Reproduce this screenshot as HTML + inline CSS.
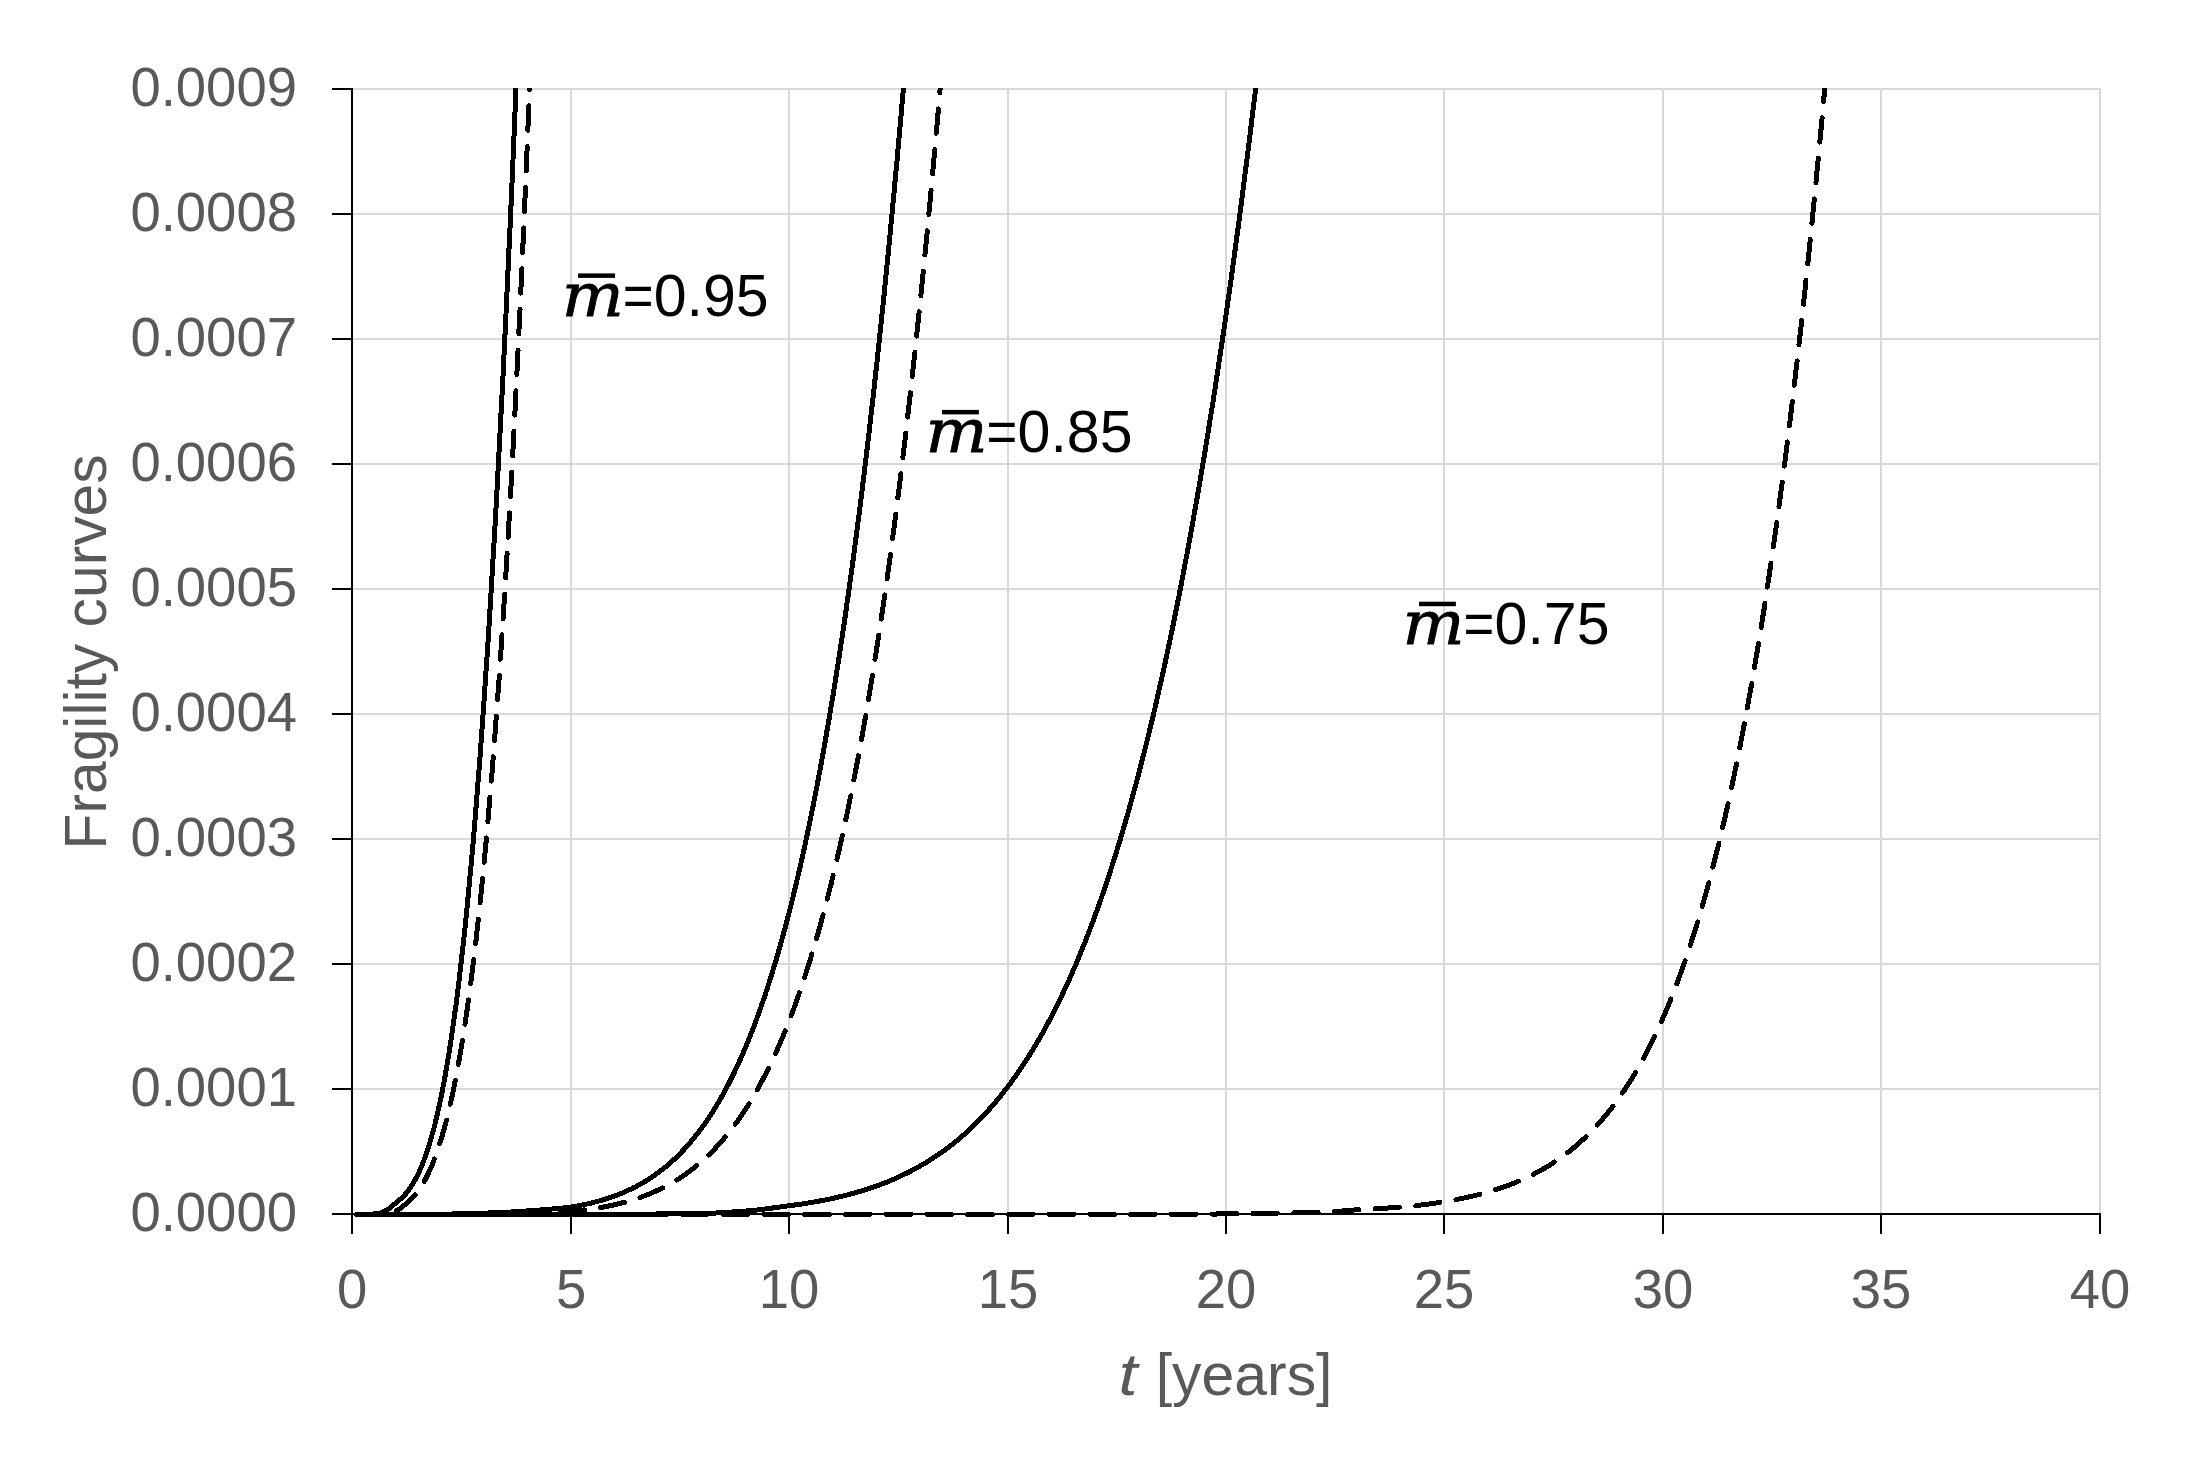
<!DOCTYPE html>
<html lang="en"><head><meta charset="utf-8"><title>Fragility curves</title>
<style>html,body{margin:0;padding:0;background:#fff}svg{display:block}</style>
</head><body>
<svg width="2200" height="1462" viewBox="0 0 2200 1462">
<rect width="2200" height="1462" fill="#fff"/>
<g stroke="#d9d9d9" stroke-width="2" fill="none">
<line x1="352" y1="89" x2="2101" y2="89"/>
<line x1="352" y1="214" x2="2101" y2="214"/>
<line x1="352" y1="339" x2="2101" y2="339"/>
<line x1="352" y1="464" x2="2101" y2="464"/>
<line x1="352" y1="589" x2="2101" y2="589"/>
<line x1="352" y1="714" x2="2101" y2="714"/>
<line x1="352" y1="839" x2="2101" y2="839"/>
<line x1="352" y1="964" x2="2101" y2="964"/>
<line x1="352" y1="1089" x2="2101" y2="1089"/>
<line x1="571" y1="88" x2="571" y2="1214"/>
<line x1="789" y1="88" x2="789" y2="1214"/>
<line x1="1008" y1="88" x2="1008" y2="1214"/>
<line x1="1226" y1="88" x2="1226" y2="1214"/>
<line x1="1444" y1="88" x2="1444" y2="1214"/>
<line x1="1663" y1="88" x2="1663" y2="1214"/>
<line x1="1881" y1="88" x2="1881" y2="1214"/>
<line x1="2100" y1="88" x2="2100" y2="1214"/>
</g>
<g stroke="#000" stroke-width="2" fill="none">
<line x1="352" y1="88" x2="352" y2="1234"/>
<line x1="332" y1="1214" x2="2101" y2="1214"/>
<line x1="332" y1="89" x2="352" y2="89"/>
<line x1="332" y1="214" x2="352" y2="214"/>
<line x1="332" y1="339" x2="352" y2="339"/>
<line x1="332" y1="464" x2="352" y2="464"/>
<line x1="332" y1="589" x2="352" y2="589"/>
<line x1="332" y1="714" x2="352" y2="714"/>
<line x1="332" y1="839" x2="352" y2="839"/>
<line x1="332" y1="964" x2="352" y2="964"/>
<line x1="332" y1="1089" x2="352" y2="1089"/>
<line x1="571" y1="1214" x2="571" y2="1234"/>
<line x1="789" y1="1214" x2="789" y2="1234"/>
<line x1="1008" y1="1214" x2="1008" y2="1234"/>
<line x1="1226" y1="1214" x2="1226" y2="1234"/>
<line x1="1444" y1="1214" x2="1444" y2="1234"/>
<line x1="1663" y1="1214" x2="1663" y2="1234"/>
<line x1="1881" y1="1214" x2="1881" y2="1234"/>
<line x1="2100" y1="1214" x2="2100" y2="1234"/>
</g>
<clipPath id="plot"><rect x="340" y="88" width="1780" height="1140"/></clipPath>
<g clip-path="url(#plot)" stroke="#000" stroke-width="5" fill="none" stroke-linecap="round" stroke-linejoin="round" shape-rendering="crispEdges">
<path d="M356.5 1214.3L360.5 1214.3L364.5 1214.3L368.5 1214.2L372.5 1214.1L376.5 1213.7L380.5 1213.0L384.5 1211.3L388.5 1209.1L392.5 1205.8L396.5 1202.3L397.5 1201.5L397.8 1201.3L398.1 1201.0L398.4 1200.8L398.7 1200.6L399.0 1200.3L399.3 1200.1L399.6 1199.8L399.9 1199.6L400.2 1199.3L400.5 1199.0L400.8 1198.8L401.1 1198.5L401.5 1198.2L401.8 1197.9L402.1 1197.6L402.4 1197.3L402.7 1197.0L403.0 1196.7L403.3 1196.4L403.6 1196.1L403.9 1195.8L404.2 1195.5L404.5 1195.1L404.8 1194.8L405.1 1194.4L405.4 1194.1L405.7 1193.8L406.0 1193.4L406.3 1193.0L406.6 1192.7L406.9 1192.3L407.2 1191.9L407.5 1191.5L407.8 1191.1L408.1 1190.7L408.4 1190.3L408.7 1189.9L409.0 1189.5L409.4 1189.1L409.7 1188.7L410.0 1188.2L410.3 1187.8L410.6 1187.3L410.9 1186.9L411.2 1186.4L411.5 1186.0L411.8 1185.5L412.1 1185.0L412.4 1184.5L412.7 1184.0L413.0 1183.5L413.3 1183.0L413.6 1182.5L413.9 1182.0L414.2 1181.5L414.5 1180.9L414.8 1180.4L415.1 1179.8L415.4 1179.3L415.7 1178.7L416.0 1178.1L416.3 1177.5L416.6 1177.0L417.0 1176.4L417.3 1175.8L417.6 1175.1L417.9 1174.5L418.2 1173.9L418.5 1173.2L418.8 1172.6L419.1 1171.9L419.4 1171.3L419.7 1170.6L420.0 1169.9L420.3 1169.2L420.6 1168.5L420.9 1167.8L421.2 1167.1L421.5 1166.4L421.8 1165.7L422.1 1164.9L422.4 1164.2L422.7 1163.4L423.0 1162.6L423.3 1161.9L423.6 1161.1L423.9 1160.3L424.2 1159.5L424.6 1158.6L424.9 1157.8L425.2 1157.0L425.5 1156.1L425.8 1155.3L426.1 1154.4L426.4 1153.5L426.7 1152.6L427.0 1151.7L427.3 1150.8L427.6 1149.9L427.9 1148.9L428.2 1148.0L428.5 1147.0L428.8 1146.1L429.1 1145.1L429.4 1144.1L429.7 1143.1L430.0 1142.1L430.3 1141.1L430.6 1140.1L430.9 1139.0L431.2 1137.9L431.5 1136.9L431.8 1135.8L432.1 1134.7L432.5 1133.6L432.8 1132.5L433.1 1131.4L433.4 1130.2L433.7 1129.1L434.0 1127.9L434.3 1126.7L434.6 1125.5L434.9 1124.3L435.2 1123.1L435.5 1121.9L435.8 1120.6L436.1 1119.4L436.4 1118.1L436.7 1116.8L437.0 1115.5L437.3 1114.2L437.6 1112.9L437.9 1111.6L438.2 1110.2L438.5 1108.9L438.8 1107.5L439.1 1106.1L439.4 1104.7L439.7 1103.3L440.1 1101.8L440.4 1100.4L440.7 1098.9L441.0 1097.5L441.3 1096.0L441.6 1094.5L441.9 1092.9L442.2 1091.4L442.5 1089.9L442.8 1088.3L443.1 1086.7L443.4 1085.1L443.7 1083.5L444.0 1081.9L444.3 1080.3L444.6 1078.6L444.9 1076.9L445.2 1075.2L445.5 1073.5L445.8 1071.8L446.1 1070.1L446.4 1068.3L446.7 1066.6L447.0 1064.8L447.3 1063.0L447.6 1061.2L448.0 1059.3L448.3 1057.5L448.6 1055.6L448.9 1053.7L449.2 1051.8L449.5 1049.9L449.8 1048.0L450.1 1046.0L450.4 1044.1L450.7 1042.1L451.0 1040.1L451.3 1038.1L451.6 1036.0L451.9 1034.0L452.2 1031.9L452.5 1029.8L452.8 1027.7L453.1 1025.6L453.4 1023.4L453.7 1021.3L454.0 1019.1L454.3 1016.9L454.6 1014.7L454.9 1012.5L455.2 1010.2L455.6 1007.9L455.9 1005.6L456.2 1003.3L456.5 1001.0L456.8 998.6L457.1 996.3L457.4 993.9L457.7 991.5L458.0 989.1L458.3 986.6L458.6 984.2L458.9 981.7L459.2 979.2L459.5 976.7L459.8 974.1L460.1 971.5L460.4 969.0L460.7 966.4L461.0 963.7L461.3 961.1L461.6 958.4L461.9 955.7L462.2 953.0L462.5 950.3L462.8 947.6L463.1 944.8L463.5 942.0L463.8 939.2L464.1 936.4L464.4 933.5L464.7 930.7L465.0 927.8L465.3 924.9L465.6 921.9L465.9 919.0L466.2 916.0L466.5 913.0L466.8 910.0L467.1 906.9L467.4 903.9L467.7 900.8L468.0 897.7L468.3 894.5L468.6 891.4L468.9 888.2L469.2 885.0L469.5 881.8L469.8 878.5L470.1 875.3L470.4 872.0L470.7 868.7L471.1 865.4L471.4 862.0L471.7 858.6L472.0 855.2L472.3 851.8L472.6 848.3L472.9 844.9L473.2 841.4L473.5 837.9L473.8 834.3L474.1 830.8L474.4 827.2L474.7 823.6L475.0 819.9L475.3 816.3L475.6 812.6L475.9 808.9L476.2 805.1L476.5 801.4L476.8 797.6L477.1 793.8L477.4 790.0L477.7 786.1L478.0 782.2L478.3 778.3L478.7 774.4L479.0 770.5L479.3 766.5L479.6 762.5L479.9 758.5L480.2 754.4L480.5 750.4L480.8 746.3L481.1 742.1L481.4 738.0L481.7 733.8L482.0 729.6L482.3 725.4L482.6 721.1L482.9 716.9L483.2 712.6L483.5 708.2L483.8 703.9L484.1 699.5L484.4 695.1L484.7 690.7L485.0 686.2L485.3 681.7L485.6 677.2L485.9 672.7L486.2 668.1L486.6 663.6L486.9 658.9L487.2 654.3L487.5 649.7L487.8 645.0L488.1 640.2L488.4 635.5L488.7 630.7L489.0 625.9L489.3 621.1L489.6 616.3L489.9 611.4L490.2 606.5L490.5 601.6L490.8 596.6L491.1 591.6L491.4 586.6L491.7 581.6L492.0 576.5L492.3 571.4L492.6 566.3L492.9 561.2L493.2 556.0L493.5 550.8L493.8 545.6L494.2 540.3L494.5 535.1L494.8 529.8L495.1 524.4L495.4 519.1L495.7 513.7L496.0 508.2L496.3 502.8L496.6 497.3L496.9 491.8L497.2 486.3L497.5 480.7L497.8 475.2L498.1 469.6L498.4 463.9L498.7 458.3L499.0 452.6L499.3 446.8L499.6 441.1L499.9 435.3L500.2 429.5L500.5 423.7L500.8 417.8L501.1 411.9L501.4 406.0L501.7 400.0L502.1 394.1L502.4 388.1L502.7 382.0L503.0 376.0L503.3 369.9L503.6 363.8L503.9 357.6L504.2 351.5L504.5 345.2L504.8 339.0L505.1 332.8L505.4 326.5L505.7 320.2L506.0 313.8L506.3 307.4L506.6 301.0L506.9 294.6L507.2 288.1L507.5 281.7L507.8 275.1L508.1 268.6L508.4 262.0L508.7 255.4L509.0 248.8L509.3 242.1L509.7 235.4L510.0 228.7L510.3 222.0L510.6 215.2L510.9 208.4L511.2 201.5L511.5 194.7L511.8 187.8L512.1 180.9L512.4 173.9L512.7 166.9L513.0 159.9L513.3 152.9L513.6 145.8L513.9 138.7L514.2 131.6L514.5 124.5L514.8 117.3L515.1 110.1L515.4 102.8L515.7 95.6L516.0 88.3L516.2 84.0"/>
<path d="M356.5 1214.3L360.5 1214.3L364.5 1214.3L368.5 1214.3L372.5 1214.3L376.5 1214.3L380.5 1214.3L384.5 1214.3L388.5 1214.3L392.5 1214.3L396.5 1214.3L400.5 1214.2L404.5 1214.2L408.5 1214.2L412.5 1214.2L416.5 1214.2L420.5 1214.2L424.5 1214.2L428.5 1214.1L432.5 1214.1L436.5 1214.1L440.5 1214.1L444.5 1214.1L448.5 1214.0L452.5 1214.0L456.5 1213.9L460.5 1213.8L464.5 1213.7L468.5 1213.6L472.5 1213.5L476.5 1213.4L480.5 1213.3L484.5 1213.2L488.5 1213.0L492.5 1212.9L496.5 1212.8L500.5 1212.6L504.5 1212.4L508.5 1212.2L512.5 1211.9L516.5 1211.7L520.5 1211.4L524.5 1211.1L528.5 1210.8L532.5 1210.6L536.5 1210.3L540.5 1210.0L544.5 1209.7L548.5 1209.3L552.5 1209.0L556.5 1208.7L560.5 1208.3L564.5 1207.8L568.5 1207.4L571.5 1207.0L572.4 1206.8L573.2 1206.7L574.1 1206.5L574.9 1206.4L575.8 1206.2L576.7 1206.1L577.5 1205.9L578.4 1205.8L579.2 1205.6L580.1 1205.4L581.0 1205.3L581.8 1205.1L582.7 1204.9L583.6 1204.7L584.4 1204.6L585.3 1204.4L586.1 1204.2L587.0 1204.0L587.9 1203.8L588.7 1203.6L589.6 1203.4L590.4 1203.2L591.3 1203.0L592.2 1202.8L593.0 1202.6L593.9 1202.3L594.7 1202.1L595.6 1201.9L596.5 1201.7L597.3 1201.4L598.2 1201.2L599.0 1201.0L599.9 1200.7L600.8 1200.5L601.6 1200.2L602.5 1200.0L603.3 1199.7L604.2 1199.5L605.1 1199.2L605.9 1198.9L606.8 1198.7L607.7 1198.4L608.5 1198.1L609.4 1197.8L610.2 1197.5L611.1 1197.2L612.0 1196.9L612.8 1196.6L613.7 1196.3L614.5 1196.0L615.4 1195.7L616.3 1195.4L617.1 1195.0L618.0 1194.7L618.8 1194.4L619.7 1194.0L620.6 1193.7L621.4 1193.3L622.3 1193.0L623.1 1192.6L624.0 1192.2L624.9 1191.9L625.7 1191.5L626.6 1191.1L627.4 1190.7L628.3 1190.3L629.2 1189.9L630.0 1189.5L630.9 1189.1L631.8 1188.7L632.6 1188.3L633.5 1187.8L634.3 1187.4L635.2 1187.0L636.1 1186.5L636.9 1186.1L637.8 1185.6L638.6 1185.1L639.5 1184.7L640.4 1184.2L641.2 1183.7L642.1 1183.2L642.9 1182.7L643.8 1182.2L644.7 1181.7L645.5 1181.2L646.4 1180.6L647.2 1180.1L648.1 1179.6L649.0 1179.0L649.8 1178.5L650.7 1177.9L651.5 1177.3L652.4 1176.8L653.3 1176.2L654.1 1175.6L655.0 1175.0L655.9 1174.4L656.7 1173.7L657.6 1173.1L658.4 1172.5L659.3 1171.8L660.2 1171.2L661.0 1170.5L661.9 1169.9L662.7 1169.2L663.6 1168.5L664.5 1167.8L665.3 1167.1L666.2 1166.4L667.0 1165.7L667.9 1164.9L668.8 1164.2L669.6 1163.5L670.5 1162.7L671.3 1161.9L672.2 1161.2L673.1 1160.4L673.9 1159.6L674.8 1158.8L675.7 1157.9L676.5 1157.1L677.4 1156.3L678.2 1155.4L679.1 1154.6L680.0 1153.7L680.8 1152.8L681.7 1151.9L682.5 1151.0L683.4 1150.1L684.3 1149.2L685.1 1148.3L686.0 1147.3L686.8 1146.4L687.7 1145.4L688.6 1144.4L689.4 1143.4L690.3 1142.4L691.1 1141.4L692.0 1140.4L692.9 1139.3L693.7 1138.3L694.6 1137.2L695.4 1136.1L696.3 1135.1L697.2 1134.0L698.0 1132.8L698.9 1131.7L699.8 1130.6L700.6 1129.4L701.5 1128.2L702.3 1127.1L703.2 1125.9L704.1 1124.7L704.9 1123.4L705.8 1122.2L706.6 1120.9L707.5 1119.7L708.4 1118.4L709.2 1117.1L710.1 1115.8L710.9 1114.5L711.8 1113.1L712.7 1111.8L713.5 1110.4L714.4 1109.0L715.2 1107.6L716.1 1106.2L717.0 1104.8L717.8 1103.3L718.7 1101.9L719.5 1100.4L720.4 1098.9L721.3 1097.4L722.1 1095.8L723.0 1094.3L723.9 1092.7L724.7 1091.2L725.6 1089.6L726.4 1087.9L727.3 1086.3L728.2 1084.7L729.0 1083.0L729.9 1081.3L730.7 1079.6L731.6 1077.9L732.5 1076.1L733.3 1074.4L734.2 1072.6L735.0 1070.8L735.9 1069.0L736.8 1067.2L737.6 1065.3L738.5 1063.4L739.3 1061.5L740.2 1059.6L741.1 1057.7L741.9 1055.7L742.8 1053.8L743.6 1051.8L744.5 1049.7L745.4 1047.7L746.2 1045.7L747.1 1043.6L748.0 1041.5L748.8 1039.4L749.7 1037.2L750.5 1035.0L751.4 1032.9L752.3 1030.6L753.1 1028.4L754.0 1026.2L754.8 1023.9L755.7 1021.6L756.6 1019.3L757.4 1016.9L758.3 1014.5L759.1 1012.1L760.0 1009.7L760.9 1007.3L761.7 1004.8L762.6 1002.3L763.4 999.8L764.3 997.3L765.2 994.7L766.0 992.1L766.9 989.5L767.8 986.8L768.6 984.2L769.5 981.5L770.3 978.8L771.2 976.0L772.1 973.2L772.9 970.4L773.8 967.6L774.6 964.8L775.5 961.9L776.4 959.0L777.2 956.0L778.1 953.1L778.9 950.1L779.8 947.0L780.7 944.0L781.5 940.9L782.4 937.8L783.2 934.7L784.1 931.5L785.0 928.3L785.8 925.1L786.7 921.8L787.5 918.5L788.4 915.2L789.3 911.8L790.1 908.5L791.0 905.0L791.9 901.6L792.7 898.1L793.6 894.6L794.4 891.1L795.3 887.5L796.2 883.9L797.0 880.2L797.9 876.6L798.7 872.9L799.6 869.1L800.5 865.3L801.3 861.5L802.2 857.7L803.0 853.8L803.9 849.9L804.8 846.0L805.6 842.0L806.5 838.0L807.3 833.9L808.2 829.8L809.1 825.7L809.9 821.5L810.8 817.3L811.6 813.1L812.5 808.8L813.4 804.5L814.2 800.1L815.1 795.7L816.0 791.3L816.8 786.9L817.7 782.3L818.5 777.8L819.4 773.2L820.3 768.6L821.1 763.9L822.0 759.2L822.8 754.5L823.7 749.7L824.6 744.9L825.4 740.0L826.3 735.1L827.1 730.1L828.0 725.1L828.9 720.1L829.7 715.0L830.6 709.9L831.4 704.7L832.3 699.5L833.2 694.3L834.0 689.0L834.9 683.6L835.7 678.2L836.6 672.8L837.5 667.3L838.3 661.8L839.2 656.2L840.1 650.6L840.9 645.0L841.8 639.3L842.6 633.5L843.5 627.7L844.4 621.9L845.2 616.0L846.1 610.0L846.9 604.0L847.8 598.0L848.7 591.9L849.5 585.7L850.4 579.5L851.2 573.3L852.1 567.0L853.0 560.7L853.8 554.3L854.7 547.8L855.5 541.3L856.4 534.8L857.3 528.2L858.1 521.5L859.0 514.8L859.9 508.0L860.7 501.2L861.6 494.4L862.4 487.4L863.3 480.4L864.2 473.4L865.0 466.3L865.9 459.2L866.7 452.0L867.6 444.7L868.5 437.4L869.3 430.0L870.2 422.6L871.0 415.1L871.9 407.6L872.8 400.0L873.6 392.3L874.5 384.6L875.3 376.8L876.2 369.0L877.1 361.1L877.9 353.1L878.8 345.1L879.6 337.0L880.5 328.9L881.4 320.7L882.2 312.4L883.1 304.1L884.0 295.7L884.8 287.2L885.7 278.7L886.5 270.1L887.4 261.5L888.3 252.8L889.1 244.0L890.0 235.2L890.8 226.3L891.7 217.3L892.6 208.2L893.4 199.1L894.3 190.0L895.1 180.7L896.0 171.4L896.9 162.0L897.7 152.6L898.6 143.1L899.4 133.5L900.3 123.8L901.2 114.1L902.0 104.3L902.9 94.4L903.7 84.5L903.8 84.0"/>
<path d="M356.5 1214.3L360.5 1214.3L364.5 1214.3L368.5 1214.3L372.5 1214.3L376.5 1214.3L380.5 1214.3L384.5 1214.3L388.5 1214.3L392.5 1214.3L396.5 1214.3L400.5 1214.3L404.5 1214.3L408.5 1214.3L412.5 1214.3L416.5 1214.3L420.5 1214.3L424.5 1214.3L428.5 1214.3L432.5 1214.3L436.5 1214.3L440.5 1214.3L444.5 1214.3L448.5 1214.3L452.5 1214.3L456.5 1214.3L460.5 1214.3L464.5 1214.3L468.5 1214.3L472.5 1214.3L476.5 1214.3L480.5 1214.3L484.5 1214.3L488.5 1214.3L492.5 1214.3L496.5 1214.3L500.5 1214.3L504.5 1214.3L508.5 1214.3L512.5 1214.3L516.5 1214.3L520.5 1214.3L524.5 1214.3L528.5 1214.3L532.5 1214.3L536.5 1214.2L540.5 1214.2L544.5 1214.2L548.5 1214.2L552.5 1214.2L556.5 1214.2L560.5 1214.2L564.5 1214.2L568.5 1214.2L572.5 1214.2L576.5 1214.2L580.5 1214.2L584.5 1214.2L588.5 1214.2L592.5 1214.2L596.5 1214.2L600.5 1214.2L604.5 1214.2L608.5 1214.2L612.5 1214.2L616.5 1214.2L620.5 1214.2L624.5 1214.1L628.5 1214.1L632.5 1214.1L636.5 1214.1L640.5 1214.1L644.5 1214.0L648.5 1214.0L652.5 1214.0L656.5 1214.0L660.5 1213.9L664.5 1213.9L668.5 1213.9L672.5 1213.8L676.5 1213.8L680.5 1213.7L684.5 1213.7L688.5 1213.6L692.5 1213.6L696.5 1213.5L700.5 1213.5L704.5 1213.4L708.5 1213.3L712.5 1213.2L716.5 1213.0L720.5 1212.8L724.5 1212.5L728.5 1212.3L732.5 1212.0L736.5 1211.7L740.5 1211.4L744.5 1211.1L748.5 1210.8L752.5 1210.5L756.5 1210.1L760.5 1209.6L764.5 1209.1L768.5 1208.6L772.5 1208.0L776.5 1207.5L780.5 1206.9L784.5 1206.3L788.5 1205.8L789.0 1205.7L790.2 1205.6L791.4 1205.4L792.6 1205.2L793.9 1205.1L795.1 1204.9L796.3 1204.8L797.5 1204.6L798.7 1204.4L799.9 1204.2L801.1 1204.1L802.4 1203.9L803.6 1203.7L804.8 1203.5L806.0 1203.3L807.2 1203.1L808.4 1202.9L809.6 1202.7L810.9 1202.5L812.1 1202.3L813.3 1202.1L814.5 1201.9L815.7 1201.7L816.9 1201.5L818.1 1201.3L819.4 1201.1L820.6 1200.8L821.8 1200.6L823.0 1200.4L824.2 1200.1L825.4 1199.9L826.6 1199.6L827.9 1199.4L829.1 1199.2L830.3 1198.9L831.5 1198.6L832.7 1198.4L833.9 1198.1L835.1 1197.8L836.4 1197.6L837.6 1197.3L838.8 1197.0L840.0 1196.7L841.2 1196.4L842.4 1196.1L843.6 1195.9L844.9 1195.5L846.1 1195.2L847.3 1194.9L848.5 1194.6L849.7 1194.3L850.9 1194.0L852.1 1193.6L853.4 1193.3L854.6 1193.0L855.8 1192.6L857.0 1192.3L858.2 1191.9L859.4 1191.6L860.6 1191.2L861.9 1190.8L863.1 1190.5L864.3 1190.1L865.5 1189.7L866.7 1189.3L867.9 1188.9L869.1 1188.5L870.4 1188.1L871.6 1187.7L872.8 1187.3L874.0 1186.9L875.2 1186.5L876.4 1186.0L877.6 1185.6L878.9 1185.1L880.1 1184.7L881.3 1184.2L882.5 1183.8L883.7 1183.3L884.9 1182.8L886.1 1182.4L887.4 1181.9L888.6 1181.4L889.8 1180.9L891.0 1180.4L892.2 1179.9L893.4 1179.3L894.6 1178.8L895.9 1178.3L897.1 1177.7L898.3 1177.2L899.5 1176.6L900.7 1176.1L901.9 1175.5L903.1 1174.9L904.3 1174.3L905.6 1173.7L906.8 1173.1L908.0 1172.5L909.2 1171.9L910.4 1171.3L911.6 1170.7L912.8 1170.0L914.1 1169.4L915.3 1168.7L916.5 1168.1L917.7 1167.4L918.9 1166.7L920.1 1166.0L921.3 1165.3L922.6 1164.6L923.8 1163.9L925.0 1163.2L926.2 1162.4L927.4 1161.7L928.6 1160.9L929.8 1160.2L931.1 1159.4L932.3 1158.6L933.5 1157.8L934.7 1157.0L935.9 1156.2L937.1 1155.4L938.3 1154.6L939.6 1153.7L940.8 1152.9L942.0 1152.0L943.2 1151.2L944.4 1150.3L945.6 1149.4L946.8 1148.5L948.1 1147.6L949.3 1146.6L950.5 1145.7L951.7 1144.8L952.9 1143.8L954.1 1142.8L955.3 1141.8L956.6 1140.9L957.8 1139.9L959.0 1138.8L960.2 1137.8L961.4 1136.8L962.6 1135.7L963.8 1134.7L965.1 1133.6L966.3 1132.5L967.5 1131.4L968.7 1130.3L969.9 1129.1L971.1 1128.0L972.3 1126.8L973.6 1125.7L974.8 1124.5L976.0 1123.3L977.2 1122.1L978.4 1120.9L979.6 1119.6L980.8 1118.4L982.1 1117.1L983.3 1115.8L984.5 1114.6L985.7 1113.2L986.9 1111.9L988.1 1110.6L989.3 1109.2L990.6 1107.9L991.8 1106.5L993.0 1105.1L994.2 1103.7L995.4 1102.2L996.6 1100.8L997.8 1099.3L999.1 1097.9L1000.3 1096.4L1001.5 1094.9L1002.7 1093.3L1003.9 1091.8L1005.1 1090.2L1006.3 1088.7L1007.6 1087.1L1008.8 1085.4L1010.0 1083.8L1011.2 1082.2L1012.4 1080.5L1013.6 1078.8L1014.8 1077.1L1016.1 1075.4L1017.3 1073.7L1018.5 1071.9L1019.7 1070.1L1020.9 1068.3L1022.1 1066.5L1023.3 1064.7L1024.6 1062.8L1025.8 1061.0L1027.0 1059.1L1028.2 1057.2L1029.4 1055.2L1030.6 1053.3L1031.8 1051.3L1033.1 1049.3L1034.3 1047.3L1035.5 1045.3L1036.7 1043.2L1037.9 1041.1L1039.1 1039.0L1040.3 1036.9L1041.6 1034.8L1042.8 1032.6L1044.0 1030.4L1045.2 1028.2L1046.4 1026.0L1047.6 1023.7L1048.8 1021.4L1050.1 1019.1L1051.3 1016.8L1052.5 1014.5L1053.7 1012.1L1054.9 1009.7L1056.1 1007.3L1057.3 1004.8L1058.6 1002.4L1059.8 999.9L1061.0 997.4L1062.2 994.8L1063.4 992.2L1064.6 989.6L1065.8 987.0L1067.1 984.4L1068.3 981.7L1069.5 979.0L1070.7 976.3L1071.9 973.5L1073.1 970.7L1074.3 967.9L1075.6 965.1L1076.8 962.2L1078.0 959.3L1079.2 956.4L1080.4 953.5L1081.6 950.5L1082.8 947.5L1084.1 944.4L1085.3 941.4L1086.5 938.3L1087.7 935.2L1088.9 932.0L1090.1 928.8L1091.3 925.6L1092.6 922.3L1093.8 919.1L1095.0 915.8L1096.2 912.4L1097.4 909.1L1098.6 905.6L1099.8 902.2L1101.1 898.7L1102.3 895.2L1103.5 891.7L1104.7 888.1L1105.9 884.5L1107.1 880.9L1108.3 877.2L1109.6 873.5L1110.8 869.8L1112.0 866.0L1113.2 862.2L1114.4 858.4L1115.6 854.5L1116.8 850.6L1118.0 846.6L1119.3 842.6L1120.5 838.6L1121.7 834.6L1122.9 830.5L1124.1 826.3L1125.3 822.2L1126.5 817.9L1127.8 813.7L1129.0 809.4L1130.2 805.1L1131.4 800.7L1132.6 796.3L1133.8 791.9L1135.0 787.4L1136.3 782.9L1137.5 778.3L1138.7 773.7L1139.9 769.1L1141.1 764.4L1142.3 759.6L1143.5 754.9L1144.8 750.1L1146.0 745.2L1147.2 740.3L1148.4 735.4L1149.6 730.4L1150.8 725.3L1152.0 720.3L1153.3 715.1L1154.5 710.0L1155.7 704.8L1156.9 699.5L1158.1 694.2L1159.3 688.9L1160.5 683.5L1161.8 678.1L1163.0 672.6L1164.2 667.0L1165.4 661.5L1166.6 655.8L1167.8 650.2L1169.0 644.4L1170.3 638.7L1171.5 632.8L1172.7 627.0L1173.9 621.0L1175.1 615.1L1176.3 609.0L1177.5 603.0L1178.8 596.9L1180.0 590.7L1181.2 584.4L1182.4 578.2L1183.6 571.8L1184.8 565.4L1186.0 559.0L1187.3 552.5L1188.5 546.0L1189.7 539.4L1190.9 532.7L1192.1 526.0L1193.3 519.2L1194.5 512.4L1195.8 505.5L1197.0 498.6L1198.2 491.6L1199.4 484.6L1200.6 477.4L1201.8 470.3L1203.0 463.1L1204.3 455.8L1205.5 448.4L1206.7 441.0L1207.9 433.6L1209.1 426.1L1210.3 418.5L1211.5 410.8L1212.8 403.1L1214.0 395.4L1215.2 387.5L1216.4 379.6L1217.6 371.7L1218.8 363.7L1220.0 355.6L1221.3 347.4L1222.5 339.2L1223.7 331.0L1224.9 322.6L1226.1 314.2L1227.3 305.7L1228.5 297.2L1229.8 288.6L1231.0 279.9L1232.2 271.2L1233.4 262.4L1234.6 253.5L1235.8 244.5L1237.0 235.5L1238.3 226.4L1239.5 217.3L1240.7 208.0L1241.9 198.7L1243.1 189.4L1244.3 179.9L1245.5 170.4L1246.8 160.8L1248.0 151.1L1249.2 141.4L1250.4 131.6L1251.6 121.7L1252.8 111.8L1254.0 101.7L1255.3 91.6L1256.2 84.0"/>
<path stroke-dasharray="24.5 16.25" d="M356.5 1214.3L360.5 1214.3L364.5 1214.3L368.5 1214.2L372.5 1214.2L376.5 1214.1L380.5 1214.0L384.5 1213.7L388.5 1213.1L392.5 1212.3L396.5 1210.8L400.5 1208.4L404.5 1205.1L408.0 1202.1L408.3 1201.8L408.6 1201.5L408.9 1201.3L409.3 1201.0L409.6 1200.7L409.9 1200.4L410.2 1200.1L410.5 1199.8L410.8 1199.5L411.1 1199.2L411.5 1198.9L411.8 1198.6L412.1 1198.2L412.4 1197.9L412.7 1197.6L413.0 1197.2L413.3 1196.9L413.6 1196.5L414.0 1196.2L414.3 1195.8L414.6 1195.5L414.9 1195.1L415.2 1194.7L415.5 1194.3L415.8 1193.9L416.2 1193.5L416.5 1193.1L416.8 1192.7L417.1 1192.3L417.4 1191.9L417.7 1191.5L418.0 1191.1L418.4 1190.6L418.7 1190.2L419.0 1189.7L419.3 1189.3L419.6 1188.8L419.9 1188.4L420.2 1187.9L420.5 1187.4L420.9 1186.9L421.2 1186.4L421.5 1185.9L421.8 1185.4L422.1 1184.9L422.4 1184.4L422.7 1183.9L423.1 1183.4L423.4 1182.8L423.7 1182.3L424.0 1181.7L424.3 1181.2L424.6 1180.6L424.9 1180.0L425.3 1179.4L425.6 1178.9L425.9 1178.3L426.2 1177.7L426.5 1177.1L426.8 1176.4L427.1 1175.8L427.4 1175.2L427.8 1174.5L428.1 1173.9L428.4 1173.2L428.7 1172.6L429.0 1171.9L429.3 1171.2L429.6 1170.5L430.0 1169.8L430.3 1169.1L430.6 1168.4L430.9 1167.7L431.2 1167.0L431.5 1166.2L431.8 1165.5L432.2 1164.7L432.5 1164.0L432.8 1163.2L433.1 1162.4L433.4 1161.6L433.7 1160.8L434.0 1160.0L434.3 1159.2L434.7 1158.4L435.0 1157.5L435.3 1156.7L435.6 1155.8L435.9 1155.0L436.2 1154.1L436.5 1153.2L436.9 1152.3L437.2 1151.4L437.5 1150.5L437.8 1149.6L438.1 1148.7L438.4 1147.7L438.7 1146.8L439.1 1145.8L439.4 1144.9L439.7 1143.9L440.0 1142.9L440.3 1141.9L440.6 1140.9L440.9 1139.8L441.2 1138.8L441.6 1137.8L441.9 1136.7L442.2 1135.6L442.5 1134.6L442.8 1133.5L443.1 1132.4L443.4 1131.3L443.8 1130.2L444.1 1129.0L444.4 1127.9L444.7 1126.7L445.0 1125.6L445.3 1124.4L445.6 1123.2L446.0 1122.0L446.3 1120.8L446.6 1119.5L446.9 1118.3L447.2 1117.1L447.5 1115.8L447.8 1114.5L448.1 1113.2L448.5 1111.9L448.8 1110.6L449.1 1109.3L449.4 1108.0L449.7 1106.6L450.0 1105.3L450.3 1103.9L450.7 1102.5L451.0 1101.1L451.3 1099.7L451.6 1098.3L451.9 1096.8L452.2 1095.4L452.5 1093.9L452.9 1092.4L453.2 1090.9L453.5 1089.4L453.8 1087.9L454.1 1086.4L454.4 1084.8L454.7 1083.3L455.0 1081.7L455.4 1080.1L455.7 1078.5L456.0 1076.9L456.3 1075.3L456.6 1073.6L456.9 1072.0L457.2 1070.3L457.6 1068.6L457.9 1066.9L458.2 1065.2L458.5 1063.4L458.8 1061.7L459.1 1059.9L459.4 1058.1L459.8 1056.3L460.1 1054.5L460.4 1052.7L460.7 1050.9L461.0 1049.0L461.3 1047.1L461.6 1045.2L462.0 1043.3L462.3 1041.4L462.6 1039.5L462.9 1037.5L463.2 1035.5L463.5 1033.6L463.8 1031.6L464.1 1029.5L464.5 1027.5L464.8 1025.5L465.1 1023.4L465.4 1021.3L465.7 1019.2L466.0 1017.1L466.3 1014.9L466.7 1012.8L467.0 1010.6L467.3 1008.4L467.6 1006.2L467.9 1004.0L468.2 1001.7L468.5 999.5L468.9 997.2L469.2 994.9L469.5 992.6L469.8 990.3L470.1 987.9L470.4 985.5L470.7 983.2L471.0 980.8L471.4 978.3L471.7 975.9L472.0 973.4L472.3 970.9L472.6 968.4L472.9 965.9L473.2 963.4L473.6 960.8L473.9 958.2L474.2 955.6L474.5 953.0L474.8 950.4L475.1 947.7L475.4 945.1L475.8 942.4L476.1 939.6L476.4 936.9L476.7 934.2L477.0 931.4L477.3 928.6L477.6 925.8L477.9 922.9L478.3 920.1L478.6 917.2L478.9 914.3L479.2 911.4L479.5 908.4L479.8 905.4L480.1 902.5L480.5 899.4L480.8 896.4L481.1 893.4L481.4 890.3L481.7 887.2L482.0 884.1L482.3 880.9L482.7 877.8L483.0 874.6L483.3 871.4L483.6 868.1L483.9 864.9L484.2 861.6L484.5 858.3L484.8 855.0L485.2 851.6L485.5 848.3L485.8 844.9L486.1 841.5L486.4 838.0L486.7 834.6L487.0 831.1L487.4 827.6L487.7 824.0L488.0 820.5L488.3 816.9L488.6 813.3L488.9 809.7L489.2 806.0L489.6 802.3L489.9 798.6L490.2 794.9L490.5 791.1L490.8 787.3L491.1 783.5L491.4 779.7L491.7 775.9L492.1 772.0L492.4 768.1L492.7 764.1L493.0 760.2L493.3 756.2L493.6 752.2L493.9 748.1L494.3 744.1L494.6 740.0L494.9 735.9L495.2 731.7L495.5 727.6L495.8 723.4L496.1 719.1L496.5 714.9L496.8 710.6L497.1 706.3L497.4 702.0L497.7 697.6L498.0 693.2L498.3 688.8L498.6 684.3L499.0 679.9L499.3 675.4L499.6 670.8L499.9 666.3L500.2 661.7L500.5 657.1L500.8 652.4L501.2 647.8L501.5 643.1L501.8 638.3L502.1 633.6L502.4 628.8L502.7 624.0L503.0 619.1L503.4 614.2L503.7 609.3L504.0 604.4L504.3 599.4L504.6 594.4L504.9 589.4L505.2 584.3L505.5 579.2L505.9 574.1L506.2 569.0L506.5 563.8L506.8 558.6L507.1 553.3L507.4 548.1L507.7 542.7L508.1 537.4L508.4 532.0L508.7 526.6L509.0 521.2L509.3 515.7L509.6 510.2L509.9 504.7L510.3 499.1L510.6 493.5L510.9 487.9L511.2 482.2L511.5 476.6L511.8 470.8L512.1 465.1L512.5 459.3L512.8 453.4L513.1 447.6L513.4 441.7L513.7 435.7L514.0 429.8L514.3 423.8L514.6 417.8L515.0 411.7L515.3 405.6L515.6 399.5L515.9 393.3L516.2 387.1L516.5 380.8L516.8 374.6L517.2 368.2L517.5 361.9L517.8 355.5L518.1 349.1L518.4 342.6L518.7 336.2L519.0 329.6L519.4 323.1L519.7 316.5L520.0 309.8L520.3 303.2L520.6 296.5L520.9 289.7L521.2 282.9L521.5 276.1L521.9 269.2L522.2 262.4L522.5 255.4L522.8 248.4L523.1 241.4L523.4 234.4L523.7 227.3L524.1 220.2L524.4 213.0L524.7 205.8L525.0 198.6L525.3 191.3L525.6 184.0L525.9 176.6L526.3 169.2L526.6 161.8L526.9 154.3L527.2 146.8L527.5 139.3L527.8 131.7L528.1 124.0L528.4 116.4L528.8 108.7L529.1 100.9L529.4 93.1L529.7 85.3L529.8 84.0"/>
<path stroke-dasharray="24.5 16.25" d="M356.5 1214.3L360.5 1214.3L364.5 1214.3L368.5 1214.3L372.5 1214.3L376.5 1214.3L380.5 1214.3L384.5 1214.3L388.5 1214.3L392.5 1214.3L396.5 1214.3L400.5 1214.3L404.5 1214.3L408.5 1214.3L412.5 1214.3L416.5 1214.3L420.5 1214.3L424.5 1214.3L428.5 1214.3L432.5 1214.3L436.5 1214.3L440.5 1214.3L444.5 1214.2L448.5 1214.2L452.5 1214.2L456.5 1214.2L460.5 1214.2L464.5 1214.2L468.5 1214.2L472.5 1214.2L476.5 1214.2L480.5 1214.2L484.5 1214.2L488.5 1214.2L492.5 1214.2L496.5 1214.2L500.5 1214.1L504.5 1214.1L508.5 1214.1L512.5 1214.1L516.5 1214.0L520.5 1214.0L524.5 1213.9L528.5 1213.9L532.5 1213.8L536.5 1213.6L540.5 1213.5L544.5 1213.3L548.5 1213.1L552.5 1212.9L556.5 1212.7L560.5 1212.5L564.5 1212.2L568.5 1211.8L572.5 1211.4L576.5 1210.9L580.5 1210.4L584.5 1209.9L588.5 1209.3L592.5 1208.7L596.5 1208.1L600.2 1207.5L601.1 1207.4L602.0 1207.2L602.9 1207.1L603.7 1206.9L604.6 1206.7L605.5 1206.6L606.4 1206.4L607.3 1206.2L608.2 1206.1L609.0 1205.9L609.9 1205.7L610.8 1205.5L611.7 1205.3L612.6 1205.1L613.5 1205.0L614.3 1204.8L615.2 1204.6L616.1 1204.4L617.0 1204.2L617.9 1203.9L618.8 1203.7L619.6 1203.5L620.5 1203.3L621.4 1203.1L622.3 1202.8L623.2 1202.6L624.1 1202.4L624.9 1202.1L625.8 1201.9L626.7 1201.7L627.6 1201.4L628.5 1201.2L629.4 1200.9L630.2 1200.6L631.1 1200.4L632.0 1200.1L632.9 1199.8L633.8 1199.6L634.7 1199.3L635.5 1199.0L636.4 1198.7L637.3 1198.4L638.2 1198.1L639.1 1197.8L640.0 1197.5L640.8 1197.2L641.7 1196.9L642.6 1196.6L643.5 1196.2L644.4 1195.9L645.3 1195.6L646.1 1195.2L647.0 1194.9L647.9 1194.5L648.8 1194.2L649.7 1193.8L650.6 1193.5L651.4 1193.1L652.3 1192.7L653.2 1192.3L654.1 1191.9L655.0 1191.5L655.9 1191.2L656.7 1190.7L657.6 1190.3L658.5 1189.9L659.4 1189.5L660.3 1189.1L661.2 1188.7L662.0 1188.2L662.9 1187.8L663.8 1187.3L664.7 1186.9L665.6 1186.4L666.5 1185.9L667.3 1185.5L668.2 1185.0L669.1 1184.5L670.0 1184.0L670.9 1183.5L671.8 1183.0L672.6 1182.5L673.5 1182.0L674.4 1181.4L675.3 1180.9L676.2 1180.4L677.1 1179.8L677.9 1179.3L678.8 1178.7L679.7 1178.1L680.6 1177.6L681.5 1177.0L682.4 1176.4L683.2 1175.8L684.1 1175.2L685.0 1174.6L685.9 1173.9L686.8 1173.3L687.7 1172.7L688.5 1172.0L689.4 1171.4L690.3 1170.7L691.2 1170.0L692.1 1169.4L693.0 1168.7L693.8 1168.0L694.7 1167.3L695.6 1166.6L696.5 1165.8L697.4 1165.1L698.3 1164.4L699.1 1163.6L700.0 1162.9L700.9 1162.1L701.8 1161.3L702.7 1160.5L703.6 1159.7L704.4 1158.9L705.3 1158.1L706.2 1157.3L707.1 1156.5L708.0 1155.6L708.9 1154.8L709.7 1153.9L710.6 1153.0L711.5 1152.2L712.4 1151.3L713.3 1150.4L714.2 1149.4L715.0 1148.5L715.9 1147.6L716.8 1146.6L717.7 1145.7L718.6 1144.7L719.5 1143.7L720.3 1142.7L721.2 1141.7L722.1 1140.7L723.0 1139.7L723.9 1138.6L724.8 1137.6L725.6 1136.5L726.5 1135.5L727.4 1134.4L728.3 1133.3L729.2 1132.2L730.1 1131.0L730.9 1129.9L731.8 1128.7L732.7 1127.6L733.6 1126.4L734.5 1125.2L735.4 1124.0L736.2 1122.8L737.1 1121.6L738.0 1120.3L738.9 1119.1L739.8 1117.8L740.7 1116.5L741.5 1115.2L742.4 1113.9L743.3 1112.6L744.2 1111.3L745.1 1109.9L746.0 1108.5L746.8 1107.2L747.7 1105.8L748.6 1104.3L749.5 1102.9L750.4 1101.5L751.3 1100.0L752.1 1098.5L753.0 1097.0L753.9 1095.5L754.8 1094.0L755.7 1092.5L756.6 1090.9L757.4 1089.4L758.3 1087.8L759.2 1086.2L760.1 1084.5L761.0 1082.9L761.9 1081.2L762.7 1079.6L763.6 1077.9L764.5 1076.2L765.4 1074.4L766.3 1072.7L767.2 1070.9L768.0 1069.2L768.9 1067.4L769.8 1065.5L770.7 1063.7L771.6 1061.9L772.5 1060.0L773.3 1058.1L774.2 1056.2L775.1 1054.2L776.0 1052.3L776.9 1050.3L777.8 1048.3L778.6 1046.3L779.5 1044.3L780.4 1042.2L781.3 1040.2L782.2 1038.1L783.1 1035.9L783.9 1033.8L784.8 1031.7L785.7 1029.5L786.6 1027.3L787.5 1025.1L788.4 1022.8L789.2 1020.5L790.1 1018.2L791.0 1015.9L791.9 1013.6L792.8 1011.2L793.7 1008.9L794.5 1006.5L795.4 1004.0L796.3 1001.6L797.2 999.1L798.1 996.6L799.0 994.1L799.8 991.5L800.7 988.9L801.6 986.3L802.5 983.7L803.4 981.1L804.3 978.4L805.1 975.7L806.0 973.0L806.9 970.2L807.8 967.4L808.7 964.6L809.6 961.8L810.5 958.9L811.3 956.0L812.2 953.1L813.1 950.2L814.0 947.2L814.9 944.2L815.8 941.2L816.6 938.1L817.5 935.0L818.4 931.9L819.3 928.8L820.2 925.6L821.1 922.4L821.9 919.2L822.8 915.9L823.7 912.6L824.6 909.3L825.5 905.9L826.4 902.5L827.2 899.1L828.1 895.6L829.0 892.2L829.9 888.6L830.8 885.1L831.7 881.5L832.5 877.9L833.4 874.2L834.3 870.6L835.2 866.8L836.1 863.1L837.0 859.3L837.8 855.5L838.7 851.6L839.6 847.7L840.5 843.8L841.4 839.9L842.3 835.9L843.1 831.8L844.0 827.8L844.9 823.6L845.8 819.5L846.7 815.3L847.6 811.1L848.4 806.8L849.3 802.5L850.2 798.2L851.1 793.8L852.0 789.4L852.9 785.0L853.7 780.5L854.6 775.9L855.5 771.4L856.4 766.7L857.3 762.1L858.2 757.4L859.0 752.7L859.9 747.9L860.8 743.0L861.7 738.2L862.6 733.3L863.5 728.3L864.3 723.3L865.2 718.3L866.1 713.2L867.0 708.1L867.9 702.9L868.8 697.7L869.6 692.4L870.5 687.1L871.4 681.7L872.3 676.3L873.2 670.9L874.1 665.4L874.9 659.8L875.8 654.2L876.7 648.6L877.6 642.9L878.5 637.1L879.4 631.3L880.2 625.5L881.1 619.6L882.0 613.6L882.9 607.6L883.8 601.6L884.7 595.5L885.5 589.3L886.4 583.1L887.3 576.9L888.2 570.5L889.1 564.2L890.0 557.8L890.8 551.3L891.7 544.7L892.6 538.2L893.5 531.5L894.4 524.8L895.3 518.0L896.1 511.2L897.0 504.4L897.9 497.4L898.8 490.4L899.7 483.4L900.6 476.3L901.4 469.1L902.3 461.9L903.2 454.6L904.1 447.2L905.0 439.8L905.9 432.3L906.7 424.8L907.6 417.2L908.5 409.5L909.4 401.8L910.3 394.0L911.2 386.2L912.0 378.2L912.9 370.2L913.8 362.2L914.7 354.1L915.6 345.9L916.5 337.6L917.3 329.3L918.2 320.9L919.1 312.4L920.0 303.9L920.9 295.3L921.8 286.6L922.6 277.9L923.5 269.0L924.4 260.1L925.3 251.2L926.2 242.1L927.1 233.0L927.9 223.8L928.8 214.6L929.7 205.2L930.6 195.8L931.5 186.3L932.4 176.8L933.2 167.1L934.1 157.4L935.0 147.6L935.9 137.7L936.8 127.7L937.7 117.7L938.5 107.6L939.4 97.3L940.3 87.1L940.6 84.0"/>
<path stroke-dasharray="24.5 16.25" d="M356.5 1214.3L360.5 1214.3L364.5 1214.3L368.5 1214.3L372.5 1214.3L376.5 1214.3L380.5 1214.3L384.5 1214.3L388.5 1214.3L392.5 1214.3L396.5 1214.3L400.5 1214.3L404.5 1214.3L408.5 1214.3L412.5 1214.3L416.5 1214.3L420.5 1214.3L424.5 1214.3L428.5 1214.3L432.5 1214.3L436.5 1214.3L440.5 1214.3L444.5 1214.3L448.5 1214.3L452.5 1214.3L456.5 1214.3L460.5 1214.3L464.5 1214.3L468.5 1214.3L472.5 1214.3L476.5 1214.3L480.5 1214.3L484.5 1214.3L488.5 1214.3L492.5 1214.3L496.5 1214.3L500.5 1214.3L504.5 1214.3L508.5 1214.3L512.5 1214.3L516.5 1214.3L520.5 1214.3L524.5 1214.3L528.5 1214.3L532.5 1214.3L536.5 1214.3L540.5 1214.3L544.5 1214.3L548.5 1214.3L552.5 1214.3L556.5 1214.3L560.5 1214.3L564.5 1214.3L568.5 1214.3L572.5 1214.3L576.5 1214.3L580.5 1214.3L584.5 1214.3L588.5 1214.3L592.5 1214.3L596.5 1214.3L600.5 1214.3L604.5 1214.3L608.5 1214.3L612.5 1214.3L616.5 1214.3L620.5 1214.3L624.5 1214.3L628.5 1214.3L632.5 1214.3L636.5 1214.3L640.5 1214.3L644.5 1214.3L648.5 1214.3L652.5 1214.3L656.5 1214.3L660.5 1214.3L664.5 1214.3L668.5 1214.3L672.5 1214.3L676.5 1214.3L680.5 1214.3L684.5 1214.3L688.5 1214.3L692.5 1214.3L696.5 1214.3L700.5 1214.3L704.5 1214.3L708.5 1214.3L712.5 1214.3L716.5 1214.3L720.5 1214.3L724.5 1214.3L728.5 1214.3L732.5 1214.3L736.5 1214.3L740.5 1214.3L744.5 1214.3L748.5 1214.3L752.5 1214.3L756.5 1214.3L760.5 1214.3L764.5 1214.3L768.5 1214.3L772.5 1214.3L776.5 1214.3L780.5 1214.3L784.5 1214.3L788.5 1214.3L792.5 1214.3L796.5 1214.3L800.5 1214.3L804.5 1214.3L808.5 1214.3L812.5 1214.3L816.5 1214.3L820.5 1214.3L824.5 1214.3L828.5 1214.3L832.5 1214.3L836.5 1214.3L840.5 1214.3L844.5 1214.3L848.5 1214.3L852.5 1214.3L856.5 1214.3L860.5 1214.3L864.5 1214.3L868.5 1214.3L872.5 1214.3L876.5 1214.3L880.5 1214.3L884.5 1214.3L888.5 1214.3L892.5 1214.3L896.5 1214.3L900.5 1214.3L904.5 1214.3L908.5 1214.3L912.5 1214.3L916.5 1214.3L920.5 1214.3L924.5 1214.3L928.5 1214.3L932.5 1214.3L936.5 1214.3L940.5 1214.3L944.5 1214.3L948.5 1214.3L952.5 1214.3L956.5 1214.3L960.5 1214.3L964.5 1214.3L968.5 1214.3L972.5 1214.3L976.5 1214.3L980.5 1214.3L984.5 1214.3L988.5 1214.3L992.5 1214.3L996.5 1214.3L1000.5 1214.3L1004.5 1214.3L1008.5 1214.3L1012.5 1214.3L1016.5 1214.3L1020.5 1214.3L1024.5 1214.3L1028.5 1214.3L1032.5 1214.3L1036.5 1214.3L1040.5 1214.3L1044.5 1214.3L1048.5 1214.3L1052.5 1214.3L1056.5 1214.3L1060.5 1214.3L1064.5 1214.3L1068.5 1214.3L1072.5 1214.3L1076.5 1214.3L1080.5 1214.3L1084.5 1214.3L1088.5 1214.3L1092.5 1214.3L1096.5 1214.3L1100.5 1214.3L1104.5 1214.3L1108.5 1214.3L1112.5 1214.3L1116.5 1214.3L1120.5 1214.3L1124.5 1214.3L1128.5 1214.3L1132.5 1214.3L1136.5 1214.3L1140.5 1214.3L1144.5 1214.2L1148.5 1214.2L1152.5 1214.2L1156.5 1214.2L1160.5 1214.2L1164.5 1214.2L1168.5 1214.2L1172.5 1214.2L1176.5 1214.1L1180.5 1214.1L1184.5 1214.1L1188.5 1214.1L1192.5 1214.1L1196.5 1214.1L1200.5 1214.0L1204.5 1214.0L1208.5 1214.0L1212.5 1214.0L1216.5 1214.0L1220.5 1213.9L1224.5 1213.9L1228.5 1213.8L1232.5 1213.8L1236.5 1213.7L1240.5 1213.7L1244.5 1213.6L1248.5 1213.5L1252.5 1213.5L1256.5 1213.4L1260.5 1213.3L1264.5 1213.3L1268.5 1213.2L1272.5 1213.1L1276.5 1213.1L1280.5 1213.0L1284.5 1212.9L1288.5 1212.9L1292.5 1212.8L1296.5 1212.7L1300.5 1212.7L1304.5 1212.6L1308.5 1212.5L1312.5 1212.4L1316.5 1212.3L1320.5 1212.2L1324.5 1212.1L1328.5 1211.9L1332.5 1211.6L1336.5 1211.4L1340.5 1211.1L1344.5 1210.8L1348.5 1210.4L1352.5 1210.1L1356.5 1209.8L1360.5 1209.6L1364.5 1209.3L1368.5 1209.1L1372.5 1208.9L1376.5 1208.7L1380.5 1208.4L1384.5 1208.2L1388.5 1208.0L1392.5 1207.8L1396.5 1207.5L1400.5 1207.2L1402.0 1207.1L1403.1 1207.0L1404.3 1206.9L1405.4 1206.8L1406.5 1206.6L1407.7 1206.5L1408.8 1206.4L1409.9 1206.3L1411.1 1206.2L1412.2 1206.1L1413.3 1205.9L1414.4 1205.8L1415.6 1205.7L1416.7 1205.6L1417.8 1205.4L1419.0 1205.3L1420.1 1205.2L1421.2 1205.0L1422.4 1204.9L1423.5 1204.7L1424.6 1204.6L1425.8 1204.4L1426.9 1204.3L1428.0 1204.1L1429.2 1204.0L1430.3 1203.8L1431.4 1203.7L1432.5 1203.5L1433.7 1203.4L1434.8 1203.2L1435.9 1203.0L1437.1 1202.9L1438.2 1202.7L1439.3 1202.5L1440.5 1202.3L1441.6 1202.2L1442.7 1202.0L1443.9 1201.8L1445.0 1201.6L1446.1 1201.4L1447.3 1201.2L1448.4 1201.0L1449.5 1200.8L1450.7 1200.6L1451.8 1200.4L1452.9 1200.2L1454.0 1200.0L1455.2 1199.8L1456.3 1199.6L1457.4 1199.4L1458.6 1199.1L1459.7 1198.9L1460.8 1198.7L1462.0 1198.5L1463.1 1198.2L1464.2 1198.0L1465.4 1197.7L1466.5 1197.5L1467.6 1197.2L1468.8 1197.0L1469.9 1196.7L1471.0 1196.5L1472.1 1196.2L1473.3 1195.9L1474.4 1195.6L1475.5 1195.4L1476.7 1195.1L1477.8 1194.8L1478.9 1194.5L1480.1 1194.2L1481.2 1193.9L1482.3 1193.6L1483.5 1193.3L1484.6 1193.0L1485.7 1192.7L1486.9 1192.4L1488.0 1192.0L1489.1 1191.7L1490.3 1191.4L1491.4 1191.0L1492.5 1190.7L1493.6 1190.3L1494.8 1190.0L1495.9 1189.6L1497.0 1189.3L1498.2 1188.9L1499.3 1188.5L1500.4 1188.1L1501.6 1187.7L1502.7 1187.4L1503.8 1187.0L1505.0 1186.5L1506.1 1186.1L1507.2 1185.7L1508.4 1185.3L1509.5 1184.9L1510.6 1184.4L1511.7 1184.0L1512.9 1183.6L1514.0 1183.1L1515.1 1182.6L1516.3 1182.2L1517.4 1181.7L1518.5 1181.2L1519.7 1180.8L1520.8 1180.3L1521.9 1179.8L1523.1 1179.3L1524.2 1178.7L1525.3 1178.2L1526.5 1177.7L1527.6 1177.2L1528.7 1176.6L1529.9 1176.1L1531.0 1175.5L1532.1 1174.9L1533.2 1174.4L1534.4 1173.8L1535.5 1173.2L1536.6 1172.6L1537.8 1172.0L1538.9 1171.4L1540.0 1170.8L1541.2 1170.1L1542.3 1169.5L1543.4 1168.8L1544.6 1168.2L1545.7 1167.5L1546.8 1166.8L1548.0 1166.1L1549.1 1165.5L1550.2 1164.7L1551.3 1164.0L1552.5 1163.3L1553.6 1162.6L1554.7 1161.8L1555.9 1161.1L1557.0 1160.3L1558.1 1159.5L1559.3 1158.7L1560.4 1157.9L1561.5 1157.1L1562.7 1156.3L1563.8 1155.5L1564.9 1154.6L1566.1 1153.8L1567.2 1152.9L1568.3 1152.0L1569.5 1151.2L1570.6 1150.3L1571.7 1149.3L1572.8 1148.4L1574.0 1147.5L1575.1 1146.5L1576.2 1145.6L1577.4 1144.6L1578.5 1143.6L1579.6 1142.6L1580.8 1141.6L1581.9 1140.5L1583.0 1139.5L1584.2 1138.4L1585.3 1137.4L1586.4 1136.3L1587.6 1135.2L1588.7 1134.1L1589.8 1132.9L1590.9 1131.8L1592.1 1130.6L1593.2 1129.4L1594.3 1128.3L1595.5 1127.0L1596.6 1125.8L1597.7 1124.6L1598.9 1123.3L1600.0 1122.1L1601.1 1120.8L1602.3 1119.5L1603.4 1118.1L1604.5 1116.8L1605.7 1115.4L1606.8 1114.1L1607.9 1112.7L1609.1 1111.2L1610.2 1109.8L1611.3 1108.4L1612.4 1106.9L1613.6 1105.4L1614.7 1103.9L1615.8 1102.4L1617.0 1100.8L1618.1 1099.3L1619.2 1097.7L1620.4 1096.1L1621.5 1094.4L1622.6 1092.8L1623.8 1091.1L1624.9 1089.4L1626.0 1087.7L1627.2 1086.0L1628.3 1084.2L1629.4 1082.4L1630.5 1080.6L1631.7 1078.8L1632.8 1076.9L1633.9 1075.1L1635.1 1073.2L1636.2 1071.2L1637.3 1069.3L1638.5 1067.3L1639.6 1065.3L1640.7 1063.3L1641.9 1061.3L1643.0 1059.2L1644.1 1057.1L1645.3 1055.0L1646.4 1052.8L1647.5 1050.6L1648.7 1048.4L1649.8 1046.2L1650.9 1043.9L1652.0 1041.6L1653.2 1039.3L1654.3 1037.0L1655.4 1034.6L1656.6 1032.2L1657.7 1029.8L1658.8 1027.3L1660.0 1024.8L1661.1 1022.3L1662.2 1019.7L1663.4 1017.1L1664.5 1014.5L1665.6 1011.8L1666.8 1009.2L1667.9 1006.4L1669.0 1003.7L1670.1 1000.9L1671.3 998.1L1672.4 995.2L1673.5 992.3L1674.7 989.4L1675.8 986.4L1676.9 983.5L1678.1 980.4L1679.2 977.3L1680.3 974.2L1681.5 971.1L1682.6 967.9L1683.7 964.7L1684.9 961.4L1686.0 958.1L1687.1 954.8L1688.3 951.4L1689.4 948.0L1690.5 944.5L1691.6 941.0L1692.8 937.5L1693.9 933.9L1695.0 930.3L1696.2 926.6L1697.3 922.9L1698.4 919.2L1699.6 915.4L1700.7 911.5L1701.8 907.6L1703.0 903.7L1704.1 899.7L1705.2 895.7L1706.4 891.6L1707.5 887.5L1708.6 883.3L1709.7 879.1L1710.9 874.8L1712.0 870.5L1713.1 866.1L1714.3 861.7L1715.4 857.2L1716.5 852.7L1717.7 848.2L1718.8 843.5L1719.9 838.8L1721.1 834.1L1722.2 829.3L1723.3 824.5L1724.5 819.6L1725.6 814.6L1726.7 809.6L1727.9 804.6L1729.0 799.4L1730.1 794.3L1731.2 789.0L1732.4 783.7L1733.5 778.4L1734.6 772.9L1735.8 767.5L1736.9 761.9L1738.0 756.3L1739.2 750.6L1740.3 744.9L1741.4 739.1L1742.6 733.3L1743.7 727.3L1744.8 721.4L1746.0 715.3L1747.1 709.2L1748.2 703.0L1749.3 696.7L1750.5 690.4L1751.6 684.0L1752.7 677.5L1753.9 671.0L1755.0 664.4L1756.1 657.7L1757.3 651.0L1758.4 644.1L1759.5 637.2L1760.7 630.3L1761.8 623.2L1762.9 616.1L1764.1 608.9L1765.2 601.6L1766.3 594.2L1767.5 586.8L1768.6 579.3L1769.7 571.7L1770.8 564.0L1772.0 556.2L1773.1 548.4L1774.2 540.4L1775.4 532.4L1776.5 524.3L1777.6 516.1L1778.8 507.9L1779.9 499.5L1781.0 491.1L1782.2 482.5L1783.3 473.9L1784.4 465.2L1785.6 456.4L1786.7 447.5L1787.8 438.5L1788.9 429.4L1790.1 420.2L1791.2 410.9L1792.3 401.6L1793.5 392.1L1794.6 382.5L1795.7 372.9L1796.9 363.1L1798.0 353.3L1799.1 343.3L1800.3 333.2L1801.4 323.1L1802.5 312.8L1803.7 302.4L1804.8 291.9L1805.9 281.3L1807.1 270.6L1808.2 259.8L1809.3 248.9L1810.4 237.9L1811.6 226.8L1812.7 215.5L1813.8 204.2L1815.0 192.7L1816.1 181.1L1817.2 169.4L1818.4 157.6L1819.5 145.7L1820.6 133.6L1821.8 121.5L1822.9 109.2L1824.0 96.8L1825.2 84.2L1825.2 84.0"/>
</g>
<g font-family="'Liberation Sans', sans-serif" font-size="56" fill="#595959">
<text x="130.4" y="106.4" textLength="166.6" lengthAdjust="spacingAndGlyphs">0.0009</text>
<text x="130.4" y="231.4" textLength="166.6" lengthAdjust="spacingAndGlyphs">0.0008</text>
<text x="130.4" y="356.4" textLength="166.6" lengthAdjust="spacingAndGlyphs">0.0007</text>
<text x="130.4" y="481.4" textLength="166.6" lengthAdjust="spacingAndGlyphs">0.0006</text>
<text x="130.4" y="606.4" textLength="166.6" lengthAdjust="spacingAndGlyphs">0.0005</text>
<text x="130.4" y="731.4" textLength="166.6" lengthAdjust="spacingAndGlyphs">0.0004</text>
<text x="130.4" y="856.4" textLength="166.6" lengthAdjust="spacingAndGlyphs">0.0003</text>
<text x="130.4" y="981.4" textLength="166.6" lengthAdjust="spacingAndGlyphs">0.0002</text>
<text x="130.4" y="1106.4" textLength="166.6" lengthAdjust="spacingAndGlyphs">0.0001</text>
<text x="130.4" y="1231.4" textLength="166.6" lengthAdjust="spacingAndGlyphs">0.0000</text>
<text x="336.9" y="1308" textLength="30.3" lengthAdjust="spacingAndGlyphs">0</text>
<text x="555.9" y="1308" textLength="30.3" lengthAdjust="spacingAndGlyphs">5</text>
<text x="758.7" y="1308" textLength="60.6" lengthAdjust="spacingAndGlyphs">10</text>
<text x="977.7" y="1308" textLength="60.6" lengthAdjust="spacingAndGlyphs">15</text>
<text x="1195.7" y="1308" textLength="60.6" lengthAdjust="spacingAndGlyphs">20</text>
<text x="1413.7" y="1308" textLength="60.6" lengthAdjust="spacingAndGlyphs">25</text>
<text x="1632.7" y="1308" textLength="60.6" lengthAdjust="spacingAndGlyphs">30</text>
<text x="1850.7" y="1308" textLength="60.6" lengthAdjust="spacingAndGlyphs">35</text>
<text x="2069.7" y="1308" textLength="60.6" lengthAdjust="spacingAndGlyphs">40</text>
</g>
<g font-family="'Liberation Sans', sans-serif" font-size="60" fill="#595959">
<text x="1118.6" y="1395" font-style="italic" textLength="19" lengthAdjust="spacingAndGlyphs">t</text>
<text x="1155.7" y="1395" textLength="176.8" lengthAdjust="spacingAndGlyphs">[years]</text>
<text transform="translate(106 849.5) rotate(-90)" x="0" y="0" textLength="395.2" lengthAdjust="spacingAndGlyphs">Fragility curves</text>
</g>
<g fill="#000">
<text x="561.7" y="315.6" font-family="'DejaVu Serif', 'Liberation Serif', serif" font-style="italic" font-size="59" stroke="#000" stroke-width="0.8" textLength="62.1" lengthAdjust="spacingAndGlyphs">m</text>
<rect x="578.1" y="273.4" width="36.9" height="4.5"/>
<text x="622.7" y="315.9" font-family="'Liberation Sans', sans-serif" font-size="60" textLength="30.8" lengthAdjust="spacingAndGlyphs">=</text>
<text x="653.7" y="315.9" font-family="'Liberation Sans', sans-serif" font-size="60" textLength="115" lengthAdjust="spacingAndGlyphs">0.95</text>
</g>
<g fill="#000">
<text x="925.6" y="452.1" font-family="'DejaVu Serif', 'Liberation Serif', serif" font-style="italic" font-size="59" stroke="#000" stroke-width="0.8" textLength="62.1" lengthAdjust="spacingAndGlyphs">m</text>
<rect x="942" y="409.9" width="36.9" height="4.5"/>
<text x="986.6" y="452.4" font-family="'Liberation Sans', sans-serif" font-size="60" textLength="30.8" lengthAdjust="spacingAndGlyphs">=</text>
<text x="1017.6" y="452.4" font-family="'Liberation Sans', sans-serif" font-size="60" textLength="115" lengthAdjust="spacingAndGlyphs">0.85</text>
</g>
<g fill="#000">
<text x="1402.6" y="643.9" font-family="'DejaVu Serif', 'Liberation Serif', serif" font-style="italic" font-size="59" stroke="#000" stroke-width="0.8" textLength="62.1" lengthAdjust="spacingAndGlyphs">m</text>
<rect x="1419" y="601.7" width="36.9" height="4.5"/>
<text x="1463.6" y="644.2" font-family="'Liberation Sans', sans-serif" font-size="60" textLength="30.8" lengthAdjust="spacingAndGlyphs">=</text>
<text x="1494.6" y="644.2" font-family="'Liberation Sans', sans-serif" font-size="60" textLength="115" lengthAdjust="spacingAndGlyphs">0.75</text>
</g>
</svg>
</body></html>
